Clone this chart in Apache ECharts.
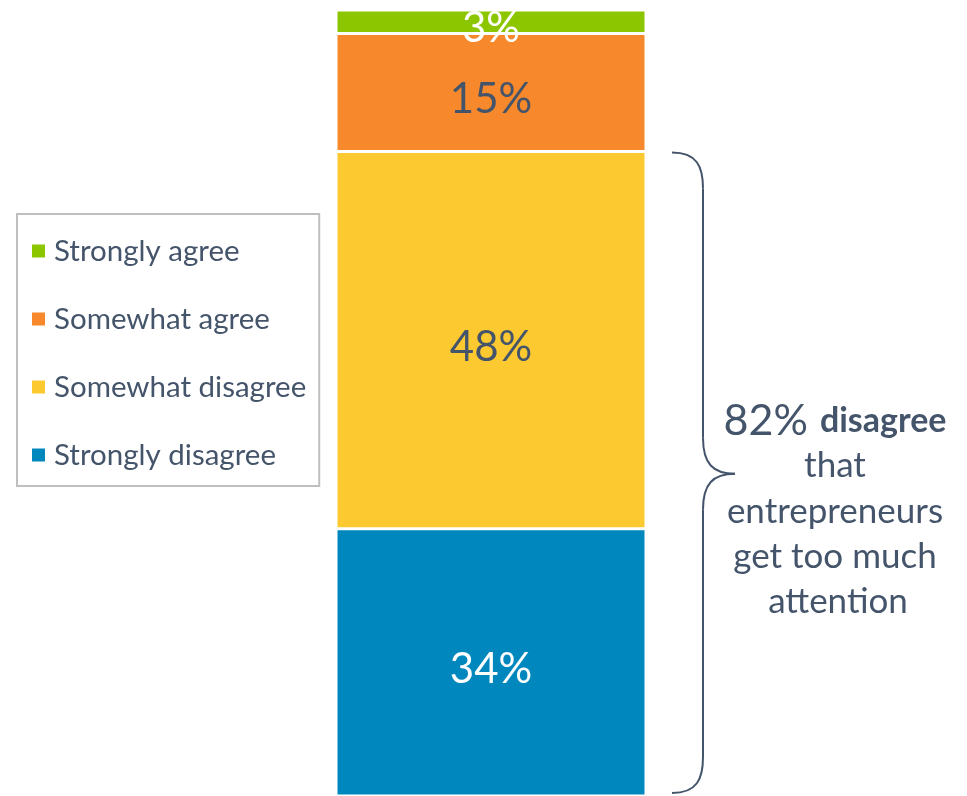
<!DOCTYPE html>
<html>
<head>
<meta charset="utf-8">
<script src="https://cdn.jsdelivr.net/npm/echarts@6/dist/echarts.min.js"></script>
<style>html,body{margin:0;padding:0;background:#fff}#c{width:967px;height:796px}</style>
</head>
<body>
<div id="c"></div>
<script>
const categories = ['Entrepreneurs get too much attention'];
const seriesNames = ['Strongly disagree', 'Somewhat disagree', 'Somewhat agree', 'Strongly agree'];
const values = [34, 48, 15, 3];
const colors = ['#0088BE', '#FDC931', '#F7882B', '#8CC600'];
const labelColors = ['#ffffff', '#44546A', '#44546A', '#ffffff'];
const legendOrder = ['Strongly agree', 'Somewhat agree', 'Somewhat disagree', 'Strongly disagree'];
const disagreeTotal = 82;

const FONT = 'Lato';
const TXT = '#44546A';

const chart = echarts.init(document.getElementById('c'), null, {renderer: 'canvas'});

const series = seriesNames.map((name, i) => ({
  name: name,
  type: 'bar',
  stack: 'all',
  barWidth: '100%',
  data: [values[i]],
  itemStyle: {color: colors[i], borderColor: '#ffffff', borderWidth: 1.5},
  label: {
    show: true,
    position: 'inside',
    formatter: '{c}%',
    color: labelColors[i],
    fontFamily: FONT,
    fontSize: 42,
    offset: [0, 7]
  }
}));

chart.setOption({
  animation: false,
  backgroundColor: '#ffffff',
  grid: {left: 336, width: 310, top: 10, bottom: 0, containLabel: false},
  xAxis: {type: 'category', data: categories, show: false},
  yAxis: {type: 'value', min: 0, max: 100, show: false},
  legend: {
    orient: 'vertical',
    left: 17,
    top: 214,
    data: legendOrder,
    icon: 'rect',
    itemWidth: 15,
    itemHeight: 15,
    itemGap: 38,
    padding: [22, 13, 16, 13],
    borderColor: '#BFBFBF',
    borderWidth: 2,
    selectedMode: false,
    textStyle: {color: TXT, fontFamily: FONT, fontSize: 29.5, lineHeight: 30, padding: [0, 0, 0, 3]}
  },
  series: series
});

// Brace spanning the "disagree" segments, positioned through the axis scale
const topPt = chart.convertToPixel({gridIndex: 0}, [0, disagreeTotal]);
const botPt = chart.convertToPixel({gridIndex: 0}, [0, 0]);
const yTop = topPt[1] + 1;
const yBot = botPt[1] - 3;
const yMid = (yTop + yBot) / 2 + 1;
const x0 = 672, x1 = 703, x2 = 735, r = 36;
const braceStyle = {fill: 'none', stroke: '#44546A', lineWidth: 2};
function bez(a, b, c1, c2) {
  return {type: 'bezierCurve', shape: {x1: a[0], y1: a[1], x2: b[0], y2: b[1], cpx1: c1[0], cpy1: c1[1], cpx2: c2[0], cpy2: c2[1]}, style: braceStyle};
}
function seg(a, b) {
  return {type: 'line', shape: {x1: a[0], y1: a[1], x2: b[0], y2: b[1]}, style: braceStyle};
}
const brace = [
  bez([x0, yTop], [x1, yTop + r], [x1 - 6, yTop], [x1, yTop + 14]),
  seg([x1, yTop + r], [x1, yMid - r]),
  bez([x1, yMid - r], [x2, yMid], [x1, yMid - 10], [x1 + 10, yMid]),
  bez([x2, yMid], [x1, yMid + r], [x1 + 10, yMid], [x1, yMid + 10]),
  seg([x1, yMid + r], [x1, yBot - r]),
  bez([x1, yBot - r], [x0, yBot], [x1, yBot - 14], [x1 - 6, yBot])
];

const cx = 835;
const F2 = '35px Lato';
chart.setOption({
  graphic: brace.concat([
    {type: 'text', x: cx, y: 421, style: {
      text: '{a|82%}{s| }{b|disagree}', align: 'center', verticalAlign: 'middle',
      rich: {
        a: {fontFamily: FONT, fontSize: 43, fill: TXT, color: TXT},
        s: {fontFamily: FONT, fontSize: 30, width: 12},
        b: {fontFamily: FONT, fontSize: 34, fontWeight: 'bold', fill: TXT, color: TXT}
      }
    }},
    {type: 'text', x: cx, y: 466, style: {text: 'that', align: 'center', verticalAlign: 'middle', font: F2, fill: TXT}},
    {type: 'text', x: cx, y: 512, style: {text: 'entrepreneurs', align: 'center', verticalAlign: 'middle', font: F2, fill: TXT}},
    {type: 'text', x: cx, y: 557, style: {text: 'get too much', align: 'center', verticalAlign: 'middle', font: F2, fill: TXT}},
    {type: 'text', x: cx + 3, y: 602, style: {text: 'attention', align: 'center', verticalAlign: 'middle', font: F2, fill: TXT}}
  ])
});
</script>
</body>
</html>
